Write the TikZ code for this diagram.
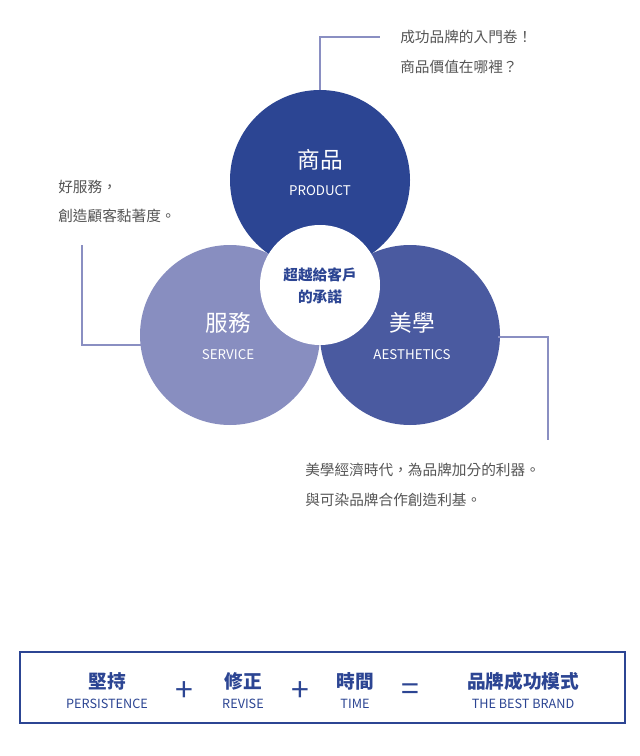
\documentclass[tikz,border=0pt]{standalone}
\usepackage{fontspec}
\setmainfont{Noto Sans CJK TC}
\usetikzlibrary{positioning}
\definecolor{topblue}{HTML}{2C4593}
\definecolor{leftblue}{HTML}{888EC0}
\definecolor{rightblue}{HTML}{4A5AA0}
\definecolor{lineblue}{HTML}{8A8FC2}
\definecolor{txtgrey}{HTML}{555555}
\tikzset{ring/.style={circle,minimum size=135pt,inner sep=0pt},
  callout/.style={lineblue,line width=2pt},
  note/.style={anchor=west,font=\fontsize{11}{13}\selectfont,text=txtgrey,inner sep=0pt},
  head/.style={text=white,font=\fontsize{17}{19}\selectfont},
  sub/.style={text=white,font=\fontsize{10}{12}\selectfont,inner sep=0pt},
  bhead/.style={text=topblue,font=\bfseries\fontsize{14}{16}\selectfont,inner sep=0pt},
  bsub/.style={text=topblue,font=\fontsize{9.5}{11}\selectfont,inner sep=0pt},
  op/.style={text=topblue,font=\fontsize{24}{24}\selectfont}}
\begin{document}
\begin{tikzpicture}[x=0.75pt,y=-0.75pt]
\useasboundingbox[fill=white] (0,0) rectangle (639,756);

% Circles
\node[ring,fill=topblue] (prod) at (320,180) {};
\node[ring,fill=leftblue] (serv) at (230,335) {};
\node[ring,fill=rightblue] (aest) at (410,335) {};
\node[circle,fill=white,minimum size=90pt,inner sep=0pt] (core) at (320,285) {};

% Circle labels
\node[head] (prodT) at (320,160) {商品};
\node[sub] (prodS) at (320,191) {PRODUCT};
\node[head] (servT) at (228,323) {服務};
\node[sub] (servS) at (228,355) {SERVICE};
\node[head] (aestT) at (412,323) {美學};
\node[sub] (aestS) at (412,355) {AESTHETICS};
\node[text=topblue,font=\bfseries\fontsize{11}{17}\selectfont,align=center] (coreT) at (320,286) {超越給客戶\\的承諾};

% Callouts
\coordinate (c1a) at (320,90); \coordinate (c1b) at (320,37); \coordinate (c1c) at (380,37);
\draw[callout] (c1a) -- (c1b) -- (c1c);
\node[note] (n1) at (400,37) {成功品牌的入門卷！};
\node[note] (n2) at (400,67) {商品價值在哪裡？};

\coordinate (c2a) at (82,245); \coordinate (c2b) at (82,345); \coordinate (c2c) at (142,345);
\draw[callout] (c2a) -- (c2b) -- (c2c);
\node[note] (n3) at (58,187) {好服務，};
\node[note] (n4) at (58,216) {創造顧客黏著度。};

\coordinate (c3a) at (498,337); \coordinate (c3b) at (548,337); \coordinate (c3c) at (548,440);
\draw[callout] (c3a) -- (c3b) -- (c3c);
\node[note] (n5) at (305,470) {美學經濟時代，為品牌加分的利器。};
\node[note] (n6) at (305,500) {與可染品牌合作創造利基。};

% Bottom formula
\draw[topblue,line width=1.5pt] (20,652) rectangle (625,723);
\node[bhead] (f1) at (107,681) {堅持};
\node[bsub] (f1s) at (107,704) {PERSISTENCE};
\node[op] (p1) at (184,692) {+};
\node[bhead] (f2) at (243,681) {修正};
\node[bsub] (f2s) at (243,704) {REVISE};
\node[op] (p2) at (300,692) {+};
\node[bhead] (f3) at (355,681) {時間};
\node[bsub] (f3s) at (355,704) {TIME};
\node[op] (eq) at (410,692) {=};
\node[bhead] (f4) at (523,681) {品牌成功模式};
\node[bsub] (f4s) at (523,704) {THE BEST BRAND};
\end{tikzpicture}
\end{document}
